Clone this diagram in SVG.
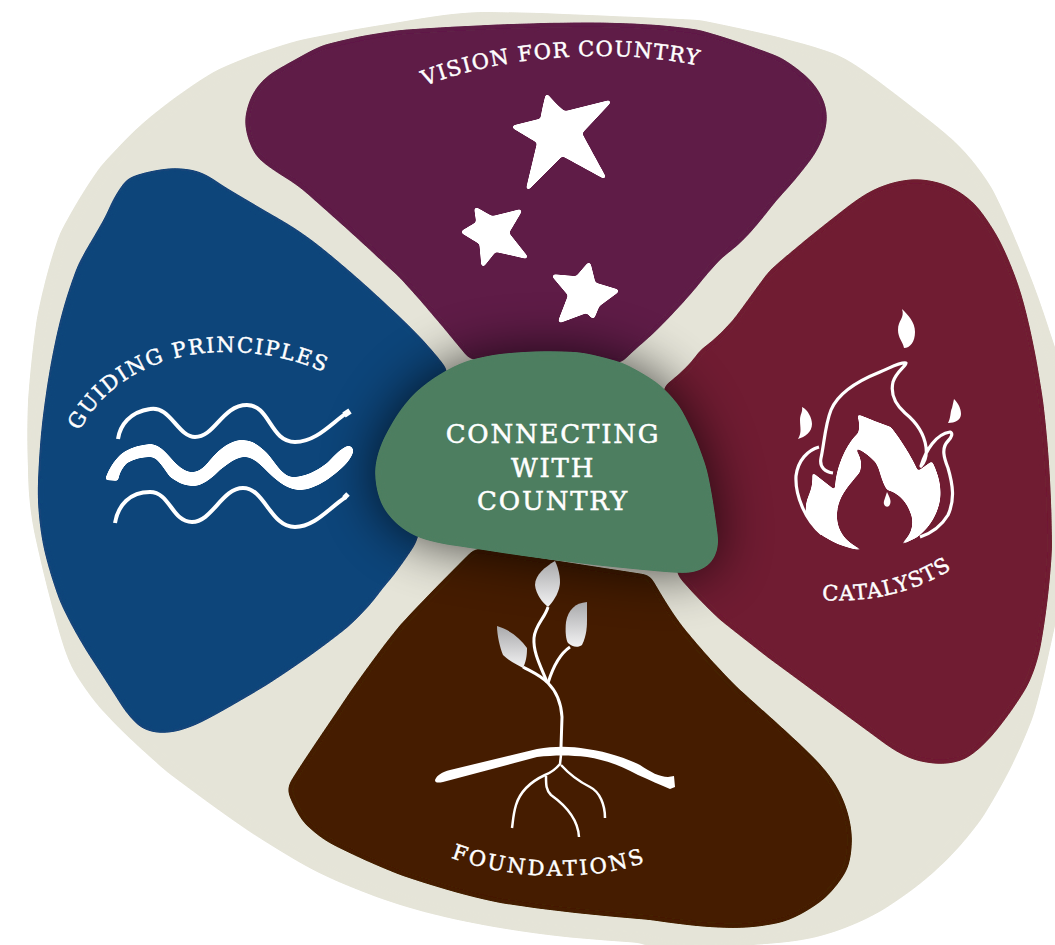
<svg xmlns="http://www.w3.org/2000/svg" width="1055" height="945" viewBox="0 0 1055 945">
<style>
.lbl{font-family:"DejaVu Serif","Liberation Serif",serif;fill:#fff;stroke:#fff;stroke-width:.45px;font-size:21px;text-anchor:middle}
.ctr{font-family:"DejaVu Serif","Liberation Serif",serif;fill:#fff;stroke:#fff;stroke-width:.5px;font-size:26px;letter-spacing:1.8px;text-anchor:middle}
.ic{fill:#fff}
.st{fill:#fff;stroke:#fff;stroke-width:3.5px;stroke-linejoin:round;filter:url(#soft)}
.ln{fill:none;stroke:#fff;stroke-linecap:butt;stroke-linejoin:round}
.sm{filter:url(#smooth)}
</style>
<defs>
<filter id="blur" x="-40%" y="-40%" width="180%" height="180%"><feGaussianBlur stdDeviation="27"/></filter>
<filter id="smooth" x="-5%" y="-5%" width="110%" height="110%"><feGaussianBlur stdDeviation="5"/><feComponentTransfer><feFuncA type="linear" slope="14" intercept="-6.5"/></feComponentTransfer></filter>
<filter id="soft" x="-15%" y="-15%" width="130%" height="130%"><feGaussianBlur stdDeviation="1.4"/><feComponentTransfer><feFuncA type="linear" slope="6" intercept="-2.5"/></feComponentTransfer></filter>
<linearGradient id="leaf" x1="0" y1="0" x2="0" y2="1"><stop offset="0" stop-color="#a9a9ab"/><stop offset="1" stop-color="#f2f2f3"/></linearGradient>
<linearGradient id="wav" x1="0" y1="0" x2="1" y2="0"><stop offset="0.7" stop-color="#fff"/><stop offset="1" stop-color="#d9d9d9"/></linearGradient>
<path id="pv" d="M420 88C490 58 610 45 704 67"/>
<path id="pg" d="M76 438C105 375 170 352 225 352C265 352 300 360 332 376"/>
<path id="pc" d="M825 600C870 603 915 592 950 570"/>
<path id="pf" d="M452 858C510 880 590 882 646 862"/>
<path id="center" d="M577 352C555 351 530 351 510 353C495 354 482 357 470 360C455 365 440 373 427 383C410 395 398 412 390 427C381 442 376 456 375 470C375 485 378 497 383 507C392 522 405 532 420 538C437 544 457 546 477 549C502 553 528 557 553 560C583 564 613 567 643 570C658 571 672 573 687 573C700 572 708 567 713 560C717 553 719 546 718 537C715 514 712 492 707 470C700 447 691 426 680 407C674 399 668 392 660 385C648 376 636 369 623 363C608 358 592 354 577 352Z"/>
</defs>
<g id="background"><path class="sm" fill="#e5e4d8" d="M480 12C530 12 590 15 700 20C750 30 795 40 833 53C848 59 860 68 873 77C900 98 928 118 953 140C970 156 982 172 993 190C1008 220 1021 252 1033 283C1042 306 1049 330 1057 353L1090 420L1090 540L1057 617C1049 652 1043 685 1033 717C1020 752 1003 785 983 817C968 838 951 857 933 873C917 887 900 899 883 910C862 922 840 931 817 937C795 942 772 944 750 945C720 960 680 960 640 943C595 940 545 936 500 928C465 922 432 915 400 905C372 896 344 885 317 872C294 860 272 846 250 832C222 813 194 792 167 772C144 752 121 731 100 708C90 696 80 682 72 668C66 655 62 642 58 628C50 600 43 572 37 545C31 520 28 495 28 470C27 447 27 423 28 400C30 372 33 344 37 317C43 288 50 260 60 233C72 210 85 188 100 167C116 149 132 132 150 117C171 100 193 84 217 70C243 58 271 48 300 40C333 33 366 27 400 22C427 17 453 13 480 12Z"/></g>
<g id="vision"><path class="sm" fill="#5f1a46" d="M400 30C375 33 348 38 323 45C305 53 289 63 273 72C264 78 258 85 253 93C248 103 245 113 245 123C246 135 250 147 257 157C270 170 288 178 303 190C335 218 368 248 400 278C425 305 447 332 470 360L622 363C633 350 645 342 657 330C672 315 688 298 700 283C708 273 715 265 723 257C733 250 742 242 750 233C760 222 768 211 777 200C790 186 802 172 813 157C822 143 827 130 827 117C827 105 822 94 813 83C804 73 793 65 780 57C755 47 728 38 700 30C640 20 550 20 400 30Z"/></g>
<g id="guiding"><path class="sm" fill="#10457a" d="M128 178C143 172 158 169 173 168C183 168 192 169 200 172C208 175 215 180 222 185C245 199 270 213 293 227C307 236 320 246 333 257C356 276 378 296 400 317C417 333 433 350 448 370L418 538C416 542 417 542 415 545C405 560 395 575 383 588C372 604 360 616 347 628C322 648 295 667 267 685C245 698 222 712 200 723C187 729 175 733 163 733C154 733 147 731 140 727C134 722 128 715 123 708C111 689 99 670 87 652C77 636 68 619 60 602C53 583 47 564 43 545C39 523 37 502 38 480C39 453 41 427 45 400C48 378 52 355 57 333C62 310 69 288 77 267C86 248 98 231 107 213C112 200 119 188 128 178Z"/></g>
<g id="catalysts"><path class="sm" fill="#701c33" d="M913 179C927 179 941 182 953 188C964 194 973 201 980 210C989 222 997 234 1003 247C1011 264 1018 282 1023 300C1032 333 1038 366 1043 400C1048 440 1052 490 1052 550C1050 584 1046 618 1040 650C1037 663 1033 675 1027 687C1018 702 1008 716 997 730C988 741 978 751 967 758C958 763 947 764 937 764C926 763 916 761 907 757C896 752 886 745 877 738C840 711 804 684 767 657C751 644 735 632 720 620C705 606 690 590 677 575L663 387C683 372 692 362 700 350C712 342 723 331 733 320C746 303 757 286 770 270C795 248 821 227 847 207C856 200 866 193 877 188C888 183 900 180 913 179Z"/></g>
<g id="foundations"><path class="sm" fill="#441e04" d="M475 548L650 575C660 592 670 610 683 627C700 648 718 668 737 687C759 707 782 727 803 747C817 760 829 773 837 787C846 803 851 820 852 837C852 849 851 860 847 870C841 881 833 891 823 900C811 909 798 917 783 922C767 926 750 928 733 928C705 928 678 924 650 920C600 916 550 911 500 903C466 896 432 886 400 875C377 866 355 856 333 845C322 839 312 831 303 822C297 813 292 803 288 793C287 789 288 786 290 782C309 752 330 722 350 692C366 669 382 647 400 625C425 598 450 573 475 548Z"/></g>
<g id="shadow"><use href="#center" fill="#000" opacity="0.72" filter="url(#blur)"/></g>
<g id="connecting"><use href="#center" fill="#4e7e60" class="sm"/>
<text class="ctr" x="553" y="443">CONNECTING</text><text class="ctr" x="553" y="477">WITH</text><text class="ctr" x="553" y="510">COUNTRY</text></g>
<g id="vision-content">
<text class="lbl" letter-spacing="1.3"><textPath href="#pv" startOffset="50%">VISION FOR COUNTRY</textPath></text>
<path class="st" d="M547 96C554 104 559 110 565 113L609 102L580 133L604 177L562 154L528 188L539 142L514 127L542 120C543 112 545 104 547 96Z"/>
<path class="st" d="M476 209L492 218L520 211L507 233L526 257L495 250L483 265L481 243L463 232L478 223Z"/>
<path class="st" d="M589 264L594 284L617 291L598 305L593 317L587 311L560 321L570 295L554 276L577 278Z"/>
</g>
<g id="guiding-content">
<text class="lbl" letter-spacing="1.6"><textPath href="#pg" startOffset="50%">GUIDING PRINCIPLES</textPath></text>
<path class="ln" stroke-width="4" d="M118 439C120 425 130 412 150 409C170 405 178 437 195 437C215 437 222 405 247 405C270 405 270 442 295 442C315 442 330 425 345 414"/>
<path class="ln" stroke-width="6" stroke-linecap="round" d="M344 415L350 411"/>
<path class="ic" fill="url(#wav)" filter="url(#soft)" d="M105 480C108 470 113 462 120 455C128 448 139 445 150 444C158 444 165 451 170 457C177 465 184 472 192 472C200 472 205 466 210 460C220 448 231 440 242 440C253 440 260 446 267 453C275 462 283 477 293 477C305 477 318 470 327 463C334 456 340 449 347 446C352 445 354 449 353 453C351 458 348 462 345 465C333 477 315 490 300 490C290 490 281 484 273 477C263 468 255 457 245 457C236 457 228 464 220 470C212 478 203 486 193 486C184 486 177 482 170 477C163 468 158 457 150 457C142 457 134 459 127 463C122 468 119 474 118 481Z"/>
<path class="ln" stroke-width="4" d="M115 523C118 505 130 492 150 492C170 492 172 522 192 522C212 522 222 488 243 488C265 488 270 527 295 527C315 527 330 507 346 497"/>
<path class="ln" stroke-width="5" stroke-linecap="round" d="M344 498L348 494"/>
</g>
<g id="catalysts-content">
<text class="lbl" letter-spacing="1"><textPath href="#pc" startOffset="50%">CATALYSTS</textPath></text>
<path class="ln" stroke-width="3.2" d="M833 473C826 472 819 468 821 458C824 445 825 425 831 410C838 393 860 380 880 372C892 367 900 362 906 363C907 365 896 372 893 382C890 395 896 405 905 413C916 422 924 433 926 447C927 455 925 462 921 466C926 450 936 434 950 432C953 433 952 437 948 441C941 448 944 458 948 468C953 485 955 500 948 515C942 525 932 533 920 537"/>
<path class="ln" stroke-width="3.2" d="M819 447C808 450 798 460 796 476C795 495 805 520 822 534"/>
<path class="ic" filter="url(#soft)" d="M812 472L835 490C835 470 845 445 858 433C860 428 859 420 857 414C870 419 880 423 891 427C901 440 911 455 918 471L932 461C939 475 943 490 939 505C935 520 926 531 916 538L895 548C910 540 916 525 910 512C905 498 895 492 887 490C880 480 880 465 873 460C865 452 860 450 855 448C862 458 862 465 860 472C850 485 838 495 837 515C837 535 850 545 866 551C845 549 830 541 820 534C811 526 804 515 806 505C807 495 814 490 812 472Z"/>
<path class="ic" d="M887 492C890 498 892 502 889 506C886 508 883 505 884 501Z"/>
<path class="ic" d="M902 309C908 315 915 322 915 332C915 342 910 348 904 348C903 342 898 338 898 330C898 320 905 318 902 309Z"/>
<path class="ic" d="M802 407C808 410 812 418 812 424C812 432 805 437 798 439C802 432 800 428 800 420C800 414 803 412 802 407Z"/>
<path class="ic" d="M954 399C958 403 961 408 961 414C961 420 955 423 948 423C951 418 950 412 952 408Z"/>
</g>
<g id="foundations-content">
<text class="lbl" letter-spacing="2.6"><textPath href="#pf" startOffset="50%">FOUNDATIONS</textPath></text>
<path class="ln" stroke-width="3" d="M561 747L562 717C561 700 555 690 548 683C540 675 532 672 523 667"/>
<path class="ln" stroke-width="3" d="M547 682C540 665 533 652 534 638C535 625 545 618 548 607"/>
<path class="ln" stroke-width="3" d="M548 683C552 670 558 655 570 647"/>
<path fill="url(#leaf)" d="M555 561C545 567 535 575 535 585C536 595 543 603 548 607C555 600 560 590 560 582C560 573 557 565 555 561Z"/>
<path fill="url(#leaf)" d="M587 602C575 603 568 610 566 622C565 632 566 640 568 643C572 647 578 648 582 645C587 635 587 625 587 618Z"/>
<path fill="url(#leaf)" d="M497 626C497 635 500 648 503 655C510 662 518 665 523 668C527 660 527 652 527 648C520 638 510 630 497 626Z"/>
<path class="ic" d="M435 780C437 775 442 772 450 770L537 749C555 746 570 746 587 749C610 752 630 760 640 765C650 772 660 777 668 777L674 776L675 787L670 789C660 785 650 780 638 775C620 765 605 760 587 757C570 755 555 755 537 757L443 782C438 783 435 783 435 780Z"/>
<path class="ln" stroke-width="2.5" d="M561 755L560 764C555 770 550 773 545 775C530 782 520 792 516 805C513 815 513 822 512 828"/>
<path class="ln" stroke-width="2.5" d="M546 776C546 785 546 790 551 795C565 805 578 818 579 837"/>
<path class="ln" stroke-width="2.5" d="M561 765C570 775 580 782 590 787C600 792 605 805 605 818"/>
</g>
</svg>
